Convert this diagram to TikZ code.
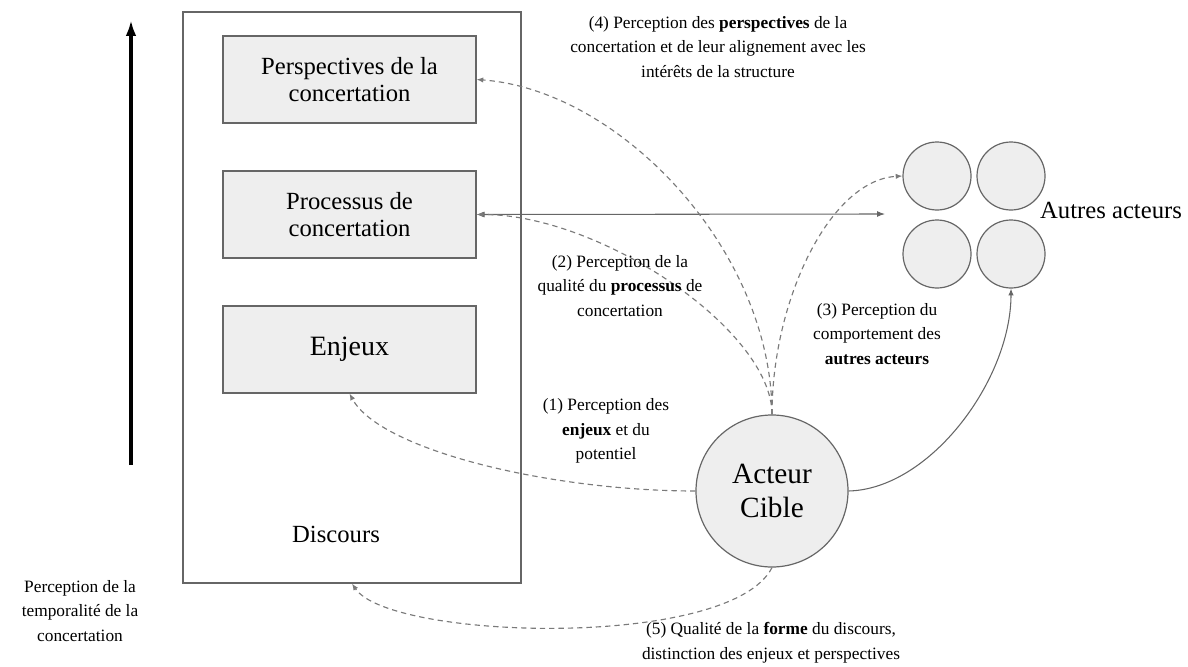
\documentclass[tikz,border=0pt]{standalone}
\usepackage{fontspec}
\setmainfont{Liberation Serif}
\usetikzlibrary{arrows.meta}
\definecolor{boxgray}{HTML}{EEEEEE}
\definecolor{linegray}{HTML}{666666}
\definecolor{dashgray}{HTML}{7A7A7A}
\tikzset{
  boite/.style={draw=linegray, fill=boxgray, line width=0.9pt, minimum width=189.75pt, minimum height=65.25pt, align=center, font=\fontsize{18.5}{20.5}\selectfont},
  rond/.style={circle, draw=linegray, fill=boxgray, line width=0.9pt, inner sep=0pt},
  legende/.style={align=center, font=\fontsize{13}{18.5}\selectfont},
  perception/.style={dashgray, line width=0.85pt, dash pattern=on 4pt off 3pt, -{Latex[length=5pt,width=4pt]}},
}
\begin{document}
\begin{tikzpicture}[x=0.75pt,y=-0.75pt]
\useasboundingbox (0,0) rectangle (1188,667);
% discours et ses trois niveaux
\node[draw=linegray, line width=0.9pt, minimum width=253.5pt, minimum height=428.25pt] (discours) at (352,297.5) {};
\node[boite] (persp) at (349.5,79.5) {Perspectives de la\\concertation};
\node[boite] (proc) at (349.5,214.5) {Processus de\\concertation};
\node[boite, font=\fontsize{21}{24}\selectfont] (enjeux) at (349.5,349.5) {Enjeux};
\node[font=\fontsize{18.5}{20.5}\selectfont] (discourslbl) at (336,534) {Discours};
% temporalite
\coordinate (t0) at (131,465);
\coordinate (t1) at (131,20);
\draw[-{Latex[length=12pt,width=8pt]}, line width=2.4pt] (t0) -- (t1);
\node[legende] (temps) at (80,611) {Perception de la\\temporalit\'e de la\\concertation};
% acteurs
\node[rond, minimum size=114pt, font=\fontsize{22}{26}\selectfont, align=center] (acteur) at (772,491) {Acteur\\Cible};
\foreach \n/\x/\y in {a1/937/176, a2/1011/176, a3/937/254, a4/1011/254}
  {\node[rond, minimum size=51pt] (\n) at (\x,\y) {};}
\node[font=\fontsize{18.5}{20.5}\selectfont] (autres) at (1111,210) {Autres acteurs};
\coordinate (versautres) at (885,214);
\draw[linegray, line width=0.8pt, {Latex[length=6pt,width=4.5pt]}-{Latex[length=6pt,width=4.5pt]}] (proc.east) -- (versautres);
% perceptions
\draw[perception] (acteur.west) .. controls (550,491) and (380,450) .. (enjeux.south);
\draw[perception] (acteur.north) .. controls (772,330) and (600,214) .. (proc.east);
\draw[perception] (acteur.north) .. controls (772,300) and (830,180) .. (a1.west);
\draw[perception] (acteur.north) .. controls (772,250) and (620,90) .. (persp.east);
\draw[perception] (acteur.south) .. controls (730,650) and (390,640) .. (discours.south);
\draw[linegray, line width=0.8pt, -{Latex[length=5pt,width=4pt]}] (acteur.east) .. controls (930,489) and (1011,380) .. (a4.south);
\node[legende] (l1) at (606,431) {(1) Perception des\\\textbf{enjeux} et du\\potentiel};
\node[legende] (l2) at (620,286) {(2) Perception de la\\qualit\'e du \textbf{processus} de\\concertation};
\node[legende] (l3) at (877,334) {(3) Perception du\\comportement des\\\textbf{autres acteurs}};
\node[legende] (l4) at (718,47) {(4) Perception des \textbf{perspectives} de la\\concertation et de leur alignement avec les\\int\'er\^ets de la structure};
\node[legende] (l5) at (771,643) {(5) Qualit\'e de la \textbf{forme} du discours,\\distinction des enjeux et perspectives};
\end{tikzpicture}
\end{document}
